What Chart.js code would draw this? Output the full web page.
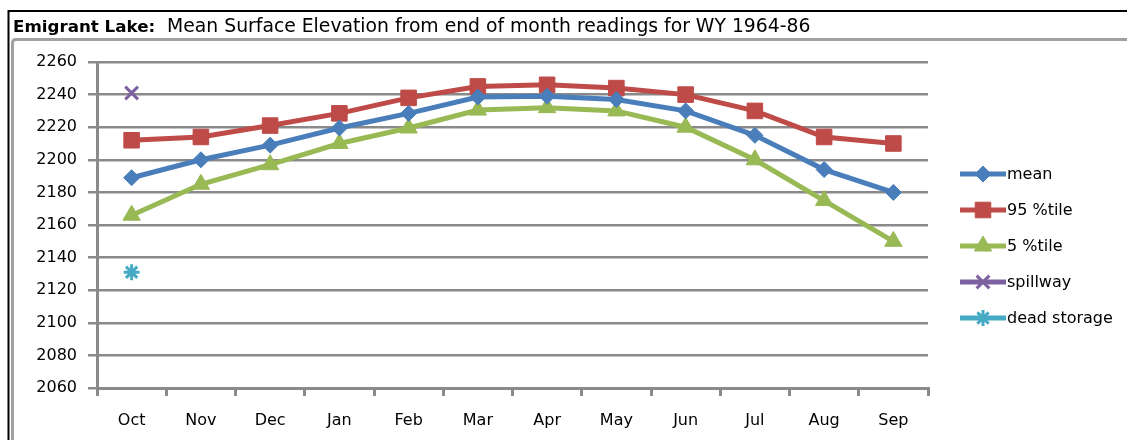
<!DOCTYPE html>
<html><head><meta charset="utf-8">
<script src="https://cdn.jsdelivr.net/npm/chart.js@4.4.0/dist/chart.umd.min.js"></script>
<style>html,body{margin:0;padding:0;background:#fff;overflow:hidden}</style>
</head><body>
<canvas id="c" width="1127" height="440" style="display:block;width:1127px;height:440px"></canvas>
<script>
const categories = ['Oct','Nov','Dec','Jan','Feb','Mar','Apr','May','Jun','Jul','Aug','Sep'];
const meanValues = [2189, 2200, 2209, 2219.5, 2228.5, 2238.5, 2239, 2237, 2230, 2215, 2194, 2180];
const p95Values  = [2212, 2214, 2221, 2228.5, 2238, 2245, 2246, 2244, 2240, 2230, 2214, 2210];
const p5Values   = [2166, 2185, 2197, 2210, 2219.5, 2230.5, 2232, 2230, 2220, 2200, 2175, 2150];
const spillwayValues    = [2241, null, null, null, null, null, null, null, null, null, null, null];
const deadStorageValues = [2131, null, null, null, null, null, null, null, null, null, null, null];
const yTicks = { min: 2060, max: 2260, step: 20 };
const titleBold = 'Emigrant Lake:';
const titleRest = '  Mean Surface Elevation from end of month readings for WY 1964-86';

const FONT = 'DejaVu Sans';
const GRID = '#8a8a8a';

const framePlugin = {
  id: 'frame',
  beforeDraw(chart) {
    const ctx = chart.ctx;
    ctx.save();
    ctx.fillStyle = '#fff';
    ctx.fillRect(0, 0, chart.width, chart.height);
    ctx.strokeStyle = '#000';
    ctx.lineWidth = 2;
    ctx.beginPath();
    ctx.moveTo(8.5, 440); ctx.lineTo(8.5, 11); ctx.lineTo(1127, 11);
    ctx.stroke();
    ctx.strokeStyle = '#a0a0a0';
    ctx.lineWidth = 3;
    ctx.beginPath();
    ctx.moveTo(12.5, 440); ctx.lineTo(12.5, 43);
    ctx.quadraticCurveTo(12.5, 39.5, 16, 39.5);
    ctx.lineTo(1127, 39.5);
    ctx.stroke();
    ctx.restore();
  },
  afterDraw(chart) {
    const ctx = chart.ctx;
    ctx.save();
    ctx.fillStyle = '#000';
    ctx.textBaseline = 'alphabetic';
    ctx.font = 'bold 16.7px "' + FONT + '"';
    ctx.fillText(titleBold, 13, 32);
    const w = ctx.measureText(titleBold).width;
    ctx.font = '18.8px "' + FONT + '"';
    ctx.fillText(titleRest, 13 + w, 32);
    const items = chart.data.datasets;
    const y0 = 174, dy = 36;
    items.forEach((ds, i) => {
      const y = y0 + i * dy;
      ctx.strokeStyle = ds.borderColor;
      ctx.lineWidth = 5;
      ctx.beginPath();
      ctx.moveTo(960, y); ctx.lineTo(1006, y);
      ctx.stroke();
      ctx.fillStyle = ds.pointBackgroundColor;
      ctx.strokeStyle = ds.pointBorderColor;
      ctx.lineWidth = ds.pointBorderWidth || 1;
      Chart.helpers.drawPoint(ctx, {pointStyle: ds.pointStyle, rotation: 0, borderWidth: ds.pointBorderWidth || 1, radius: ds.pointRadius}, 983, y);
      ctx.fillStyle = '#000';
      ctx.font = '16px "' + FONT + '"';
      ctx.textBaseline = 'middle';
      ctx.fillText(ds.label, 1007, y + 1);
    });
    ctx.restore();
  }
};

function lineSet(label, data, color, style, radius) {
  return {
    label, data,
    borderColor: color, backgroundColor: color,
    pointBackgroundColor: color, pointBorderColor: color,
    pointStyle: style, pointRadius: radius, pointHoverRadius: radius,
    borderWidth: 5, pointBorderWidth: 1, tension: 0, fill: false
  };
}
function markSet(label, data, color, style, radius) {
  return {
    label, data, showLine: false,
    borderColor: color, backgroundColor: color,
    pointBackgroundColor: color, pointBorderColor: color,
    pointStyle: style, pointRadius: radius, pointHoverRadius: radius,
    pointBorderWidth: 3, borderWidth: 3
  };
}

new Chart(document.getElementById('c'), {
  type: 'line',
  data: {
    labels: categories,
    datasets: [
      lineSet('mean', meanValues, '#4A7EBB', 'rectRot', 8),
      lineSet('95 %tile', p95Values, '#BE4B48', 'rect', 11),
      lineSet('5 %tile', p5Values, '#98B954', 'triangle', 10),
      markSet('spillway', spillwayValues, '#7D60A0', 'crossRot', 9),
      markSet('dead storage', deadStorageValues, '#46AAC5', 'star', 8)
    ]
  },
  options: {
    responsive: false,
    animation: false,
    devicePixelRatio: 1,
    layout: { padding: { left: 12, right: 199, top: 62, bottom: 0 } },
    plugins: { legend: { display: false }, title: { display: false }, tooltip: { enabled: false } },
    scales: {
      x: {
        type: 'category',
        offset: true,
        grid: { display: true, drawOnChartArea: false, drawTicks: true, tickLength: 8, color: GRID, lineWidth: 3, offset: true },
        border: { display: true, color: GRID, width: 3 },
        ticks: { color: '#000', font: { family: FONT, size: 16 }, padding: 15, maxRotation: 0 },
        afterFit(s) { s.height = 52; }
      },
      y: {
        min: yTicks.min, max: yTicks.max,
        grid: { color: GRID, lineWidth: 2.5, tickLength: 9, drawTicks: true },
        border: { display: true, color: GRID, width: 3 },
        ticks: { stepSize: yTicks.step, color: '#000', font: { family: FONT, size: 16 }, padding: 11,
                 callback: v => String(v) },
        afterFit(s) { s.width = 85; }
      }
    }
  },
  plugins: [framePlugin]
});
</script>
</body></html>
